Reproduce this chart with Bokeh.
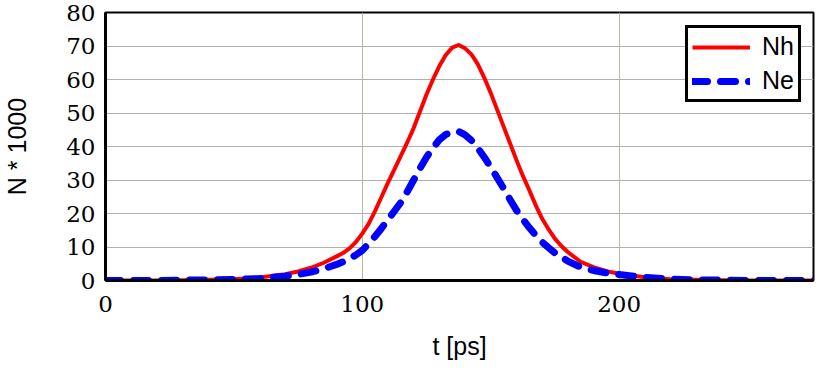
from bokeh.plotting import figure
from bokeh.models import Range1d, FixedTicker, Legend, LegendItem
from bokeh.embed import file_html
from bokeh.resources import INLINE

# time axis (ps)
t = [0, 10, 20, 30, 40, 50, 60, 70, 75, 80, 85, 90, 92.5, 95, 97.5, 100, 102.5,
     105, 107.5, 110, 112.5, 115, 117.5, 120, 122.5, 125, 127.5, 130, 132.5,
     135, 137.5, 140, 142.5, 145, 147.5, 150, 152.5, 155, 157.5, 160, 162.5,
     165, 167.5, 170, 172.5, 175, 177.5, 180, 185, 190, 195, 200, 210, 220,
     230, 240, 250, 260, 270, 277]
# holes (x1000)
nh = [0.0, 0.0, 0.0, 0.1, 0.2, 0.4, 0.9, 1.9, 2.7, 3.8, 5.3, 7.2, 8.2, 9.6,
      11.5, 14.0, 17.0, 20.8, 25.0, 29.2, 33.2, 37.2, 41.2, 45.5, 50.5, 55.5,
      60.0, 64.0, 67.3, 69.5, 70.3, 69.3, 67.5, 64.5, 60.5, 56.0, 51.0, 46.0,
      41.0, 36.0, 31.3, 27.0, 22.5, 18.5, 15.3, 12.5, 10.3, 8.5, 5.6, 4.0,
      2.8, 2.0, 1.0, 0.4, 0.2, 0.1, 0.0, 0.0, 0.0, 0.0]
# electrons (x1000)
ne = [0.0, 0.0, 0.0, 0.1, 0.2, 0.3, 0.6, 1.3, 1.8, 2.5, 3.5, 4.8, 5.6, 6.5,
      7.6, 9.0, 11.0, 13.2, 15.6, 18.2, 20.7, 23.3, 26.5, 30.0, 33.5, 36.8,
      39.6, 42.0, 43.6, 44.3, 44.5, 43.5, 41.8, 39.5, 36.8, 33.8, 30.7, 27.5,
      24.2, 21.0, 18.3, 15.8, 13.5, 11.5, 9.8, 8.2, 7.0, 5.8, 4.0, 3.0, 2.3,
      1.8, 0.9, 0.4, 0.2, 0.1, 0.0, 0.0, 0.0, 0.0]

y_ticks = [0, 10, 20, 30, 40, 50, 60, 70, 80]
x_ticks = [0, 100, 200]

SERIF = "DejaVu Serif"
SANS = "Liberation Sans"

p = figure(width=815, height=364, output_backend="svg", toolbar_location=None,
           x_range=Range1d(0, 275.7), y_range=Range1d(0, 80),
           min_border_left=103, min_border_right=2, min_border_top=12,
           min_border_bottom=84)

p.outline_line_color = "black"
p.outline_line_width = 2
p.outline_line_alpha = 1
p.background_fill_color = "white"
p.border_fill_color = "white"

p.xaxis.axis_line_color = "black"
p.yaxis.axis_line_color = "black"
p.xaxis.axis_line_width = 3
p.yaxis.axis_line_width = 3
p.xaxis.major_tick_line_color = None
p.yaxis.major_tick_line_color = None
p.xaxis.minor_tick_line_color = None
p.yaxis.minor_tick_line_color = None
p.xaxis.major_label_text_font = SERIF
p.yaxis.major_label_text_font = SERIF
p.xaxis.major_label_text_font_size = "23px"
p.yaxis.major_label_text_font_size = "23px"
p.xaxis.major_label_text_color = "black"
p.yaxis.major_label_text_color = "black"
p.xaxis.axis_label_text_font = SANS
p.yaxis.axis_label_text_font = SANS
p.xaxis.axis_label_text_font_size = "25px"
p.yaxis.axis_label_text_font_size = "25px"
p.xaxis.axis_label_text_font_style = "normal"
p.yaxis.axis_label_text_font_style = "normal"
p.xaxis.axis_label_text_color = "black"
p.yaxis.axis_label_text_color = "black"

p.xaxis.ticker = FixedTicker(ticks=x_ticks)
p.yaxis.ticker = FixedTicker(ticks=y_ticks)
p.xaxis.axis_label = "t [ps]"
p.yaxis.axis_label = "N * 1000"
p.xaxis.major_label_standoff = 9
p.yaxis.major_label_standoff = 4
p.xaxis.axis_label_standoff = 17
p.yaxis.axis_label_standoff = 32

p.xgrid.ticker = FixedTicker(ticks=x_ticks)
p.ygrid.ticker = FixedTicker(ticks=y_ticks)
p.xgrid.grid_line_color = "#b8b8a0"
p.ygrid.grid_line_color = "#b0b0b0"
p.xgrid.grid_line_width = 1
p.ygrid.grid_line_width = 1

r1 = p.line(t, nh, line_color="#ff0000", line_width=4, line_join="round")
r2 = p.line(t, ne, line_color="#0000ff", line_width=7, line_dash="15 13",
            line_cap="round", line_join="round")

legend = Legend(items=[LegendItem(label="Nh", renderers=[r1]),
                       LegendItem(label="Ne", renderers=[r2])],
                location=(580, 178))
legend.border_line_color = "black"
legend.border_line_width = 3
legend.border_line_alpha = 1
legend.background_fill_alpha = 1
legend.label_text_font = SANS
legend.label_text_font_size = "25px"
legend.label_text_color = "black"
legend.glyph_width = 58
legend.glyph_height = 24
legend.label_height = 24
legend.label_width = 30
legend.label_standoff = 12
legend.padding = 4
legend.spacing = 5
legend.margin = 0
p.add_layout(legend)

open("out.html", "w").write(file_html(p, INLINE))
